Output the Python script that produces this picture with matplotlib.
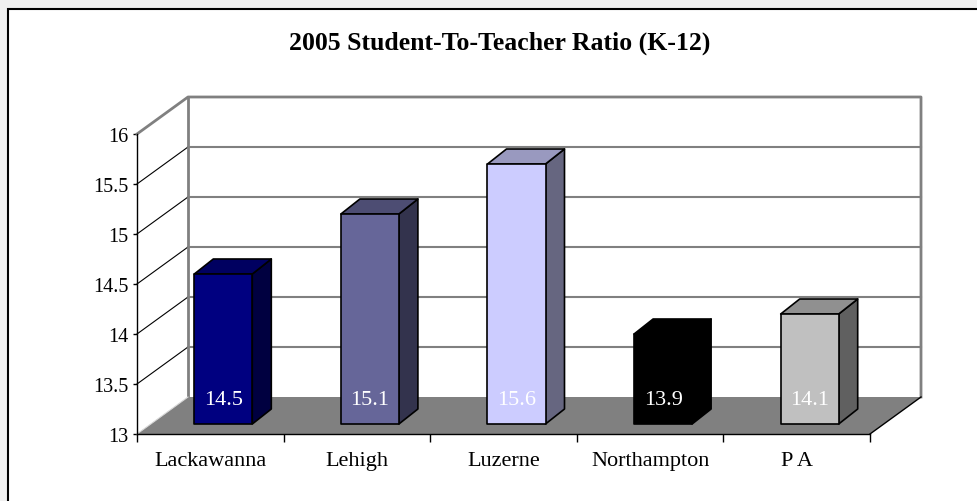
"""2005 student-to-teacher ratio, Excel-style 3D column chart."""
import numpy as np
import matplotlib
matplotlib.use('Agg')
import matplotlib.pyplot as plt
from matplotlib.patches import Polygon, Rectangle
from matplotlib.colors import to_rgb

counties = ['Lackawanna', 'Lehigh', 'Luzerne', 'Northampton', 'P A']
ratios = [14.5, 15.1, 15.6, 13.9, 14.1]
bar_colors = ['#000080', '#666699', '#ccccff', '#000000', '#c0c0c0']
yticks = [13, 13.5, 14, 14.5, 15, 15.5, 16]
ytick_labels = ['13', '13.5', '14', '14.5', '15', '15.5', '16']
title = '2005 Student-To-Teacher Ratio (K-12)'

plt.rcParams['font.family'] = ['Liberation Serif', 'DejaVu Serif']

W, H = 978, 502
fig = plt.figure(figsize=(W / 100, H / 100), dpi=100, facecolor='#f0f0f0')
fig.patches.append(Rectangle((8 / W, -0.1), 1.1, 1.1 - 10 / H,
                             transform=fig.transFigure, facecolor='white',
                             edgecolor='black', lw=1.5, zorder=-5))

# front plane of the plot area (pixels)
x0, x1, y0, y1 = 137, 870, 435, 135
ax = fig.add_axes([x0 / W, 1 - y0 / H, (x1 - x0) / W, (y0 - y1) / H])
ax.set_xlim(0, len(counties))
ax.set_ylim(13, 16)
ax.patch.set_visible(False)

# pixel -> data units
px_x = len(counties) / (x1 - x0)
px_y = 3 / (y0 - y1)
DX, DY = 51 * px_x, 37 * px_y          # depth of the floor / walls
FX, FY = 13 * px_x, 10 * px_y          # front of bars from front plane
BX, BY = 19 * px_x, 15 * px_y          # bar depth
HW = 29 * px_x                         # half bar width
n = len(counties)
ymin, ymax = 13, 16

kw = dict(clip_on=False)
# back wall
ax.add_patch(Polygon([(DX, ymin + DY), (n + DX, ymin + DY), (n + DX, ymax + DY),
                      (DX, ymax + DY)], facecolor='white', edgecolor='none',
                     zorder=1, **kw))
for v in yticks[1:-1]:
    ax.plot([DX, n + DX], [v + DY, v + DY], color='#808080', lw=1.5, zorder=2, **kw)
    ax.plot([0, DX], [v, v + DY], color='black', lw=0.8, zorder=2, **kw)
ax.plot([0, DX, n + DX, n + DX], [ymax, ymax + DY, ymax + DY, ymin + DY],
        color='#808080', lw=2, zorder=2, **kw)
ax.plot([DX, DX], [ymin + DY, ymax + DY], color='#808080', lw=2, zorder=2, **kw)

# floor
ax.add_patch(Polygon([(0, ymin), (n, ymin), (n + DX, ymin + DY), (DX, ymin + DY)],
                     facecolor='#808080', edgecolor='none', zorder=3, **kw))
ax.plot([0, DX], [ymin, ymin + DY], color='#d8d8d8', lw=0.8, zorder=3, **kw)
ax.plot([n, n + DX], [ymin, ymin + DY], color='black', lw=1, zorder=3, **kw)

# bars
for i, (val, col) in enumerate(zip(ratios, bar_colors)):
    rgb = np.array(to_rgb(col))
    xl = i + 0.5 - HW + FX
    xr = i + 0.5 + HW + FX
    yb = ymin + FY
    yt = val + FY
    ec = 'black'
    front = [(xl, yb), (xr, yb), (xr, yt), (xl, yt)]
    side = [(xr, yb), (xr + BX, yb + BY), (xr + BX, yt + BY), (xr, yt)]
    top = [(xl, yt), (xr, yt), (xr + BX, yt + BY), (xl + BX, yt + BY)]
    ax.add_patch(Polygon(side, facecolor=rgb * 0.5, edgecolor=ec, lw=1.2,
                         joinstyle='round', zorder=4, **kw))
    ax.add_patch(Polygon(top, facecolor=rgb * 0.75, edgecolor=ec, lw=1.2,
                         joinstyle='round', zorder=4, **kw))
    ax.add_patch(Polygon(front, facecolor=rgb, edgecolor=ec, lw=1.2,
                         joinstyle='round', zorder=5, **kw))
    ax.text(i + 0.5 + FX, yb + 25 * px_y, f'{val:.1f}', color='white',
            ha='center', va='center', fontsize=16, zorder=6)

# axes
for s in ['top', 'right']:
    ax.spines[s].set_visible(False)
for s in ['left', 'bottom']:
    ax.spines[s].set_color('black')
    ax.spines[s].set_linewidth(1)
    ax.spines[s].set_zorder(7)
ax.set_yticks(yticks)
ax.set_yticklabels(ytick_labels, fontsize=14.5)
ax.set_xticks(np.arange(n + 1))
ax.set_xticklabels([])
ax.set_xticks(np.arange(n) + 0.5, minor=True)
ax.set_xticklabels(counties, minor=True, fontsize=16)
ax.tick_params(axis='y', length=3, width=1, pad=3)
ax.tick_params(axis='x', which='major', length=6, width=1)
ax.tick_params(axis='x', which='minor', length=0, pad=12)

fig.text(500 / W, 1 - 43 / H, title, ha='center', va='center',
         fontsize=18.5, fontweight='bold')

fig.savefig('out.png', dpi=100, facecolor=fig.get_facecolor())
